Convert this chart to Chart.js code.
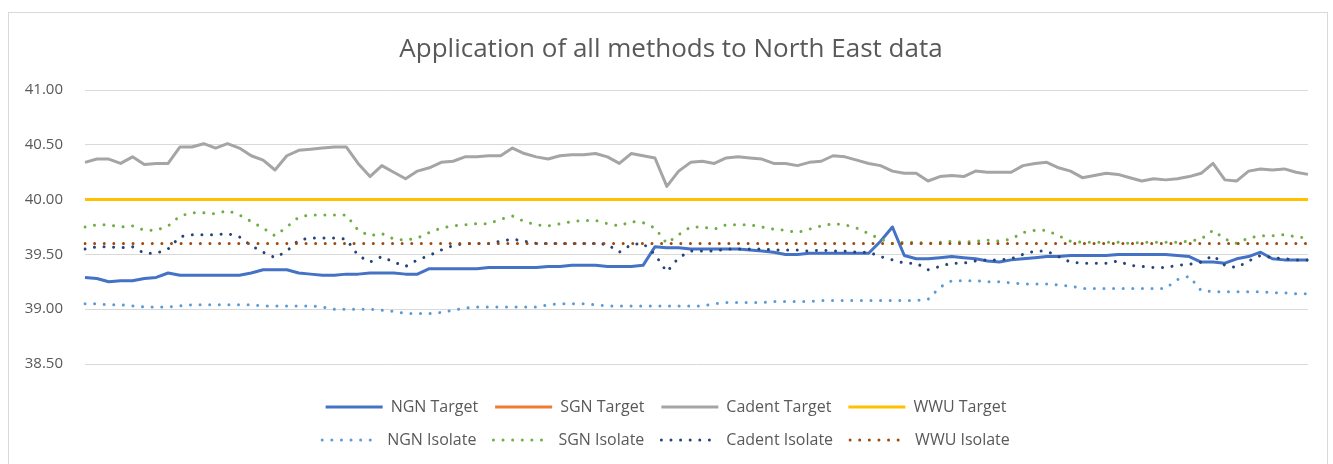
<!DOCTYPE html>
<html><head><meta charset="utf-8">
<script src="https://cdn.jsdelivr.net/npm/chart.js@4.4.1/dist/chart.umd.min.js"></script>
<style>
html,body{margin:0;padding:0;background:#fff;overflow:hidden;width:1333px;height:464px;}
#frame{position:absolute;left:8px;top:12px;width:1318px;height:460px;border:1px solid #d9d9d9;background:#fff;}
#c{display:block;}
#warm{position:absolute;left:-9999px;top:0;font-family:'Open Sans';font-size:16px;}
</style></head><body>
<div id="warm">Application NGN Target 41.00</div>
<div id="frame"><canvas id="c" width="1318" height="460"></canvas></div>
<script>
const chartTitle = 'Application of all methods to North East data';

const categories = [1,2,3,4,5,6,7,8,9,10,11,12,13,14,15,16,17,18,19,20,
21,22,23,24,25,26,27,28,29,30,31,32,33,34,35,36,37,38,39,40,
41,42,43,44,45,46,47,48,49,50,51,52,53,54,55,56,57,58,59,60,
61,62,63,64,65,66,67,68,69,70,71,72,73,74,75,76,77,78,79,80,
81,82,83,84,85,86,87,88,89,90,91,92,93,94,95,96,97,98,99,100,
101,102,103,104];

const yTicks = [38.5, 39.0, 39.5, 40.0, 40.5, 41.0];

const seriesNames = ['NGN Target','SGN Target','Cadent Target','WWU Target',
                     'NGN Isolate','SGN Isolate','Cadent Isolate','WWU Isolate'];

const ngnTarget = [39.29,39.28,39.25,39.26,39.26,39.28,39.29,39.33,39.31,39.31,
 39.31,39.31,39.31,39.31,39.33,39.36,39.36,39.36,39.33,39.32,
 39.31,39.31,39.32,39.32,39.33,39.33,39.33,39.32,39.32,39.37,
 39.37,39.37,39.37,39.37,39.38,39.38,39.38,39.38,39.38,39.39,
 39.39,39.40,39.40,39.40,39.39,39.39,39.39,39.40,39.57,39.56,
 39.56,39.55,39.55,39.55,39.55,39.55,39.54,39.53,39.52,39.50,
 39.50,39.51,39.51,39.51,39.51,39.51,39.51,39.62,39.75,39.49,
 39.46,39.46,39.47,39.48,39.47,39.46,39.44,39.43,39.45,39.46,
 39.47,39.48,39.48,39.49,39.49,39.49,39.49,39.50,39.50,39.50,
 39.50,39.50,39.49,39.48,39.43,39.43,39.42,39.46,39.48,39.52,
 39.46,39.45,39.45,39.45];

const sgnTarget = [40.00,40.00,40.00,40.00,40.00,40.00,40.00,40.00,40.00,40.00,
 40.00,40.00,40.00,40.00,40.00,40.00,40.00,40.00,40.00,40.00,
 40.00,40.00,40.00,40.00,40.00,40.00,40.00,40.00,40.00,40.00,
 40.00,40.00,40.00,40.00,40.00,40.00,40.00,40.00,40.00,40.00,
 40.00,40.00,40.00,40.00,40.00,40.00,40.00,40.00,40.00,40.00,
 40.00,40.00,40.00,40.00,40.00,40.00,40.00,40.00,40.00,40.00,
 40.00,40.00,40.00,40.00,40.00,40.00,40.00,40.00,40.00,40.00,
 40.00,40.00,40.00,40.00,40.00,40.00,40.00,40.00,40.00,40.00,
 40.00,40.00,40.00,40.00,40.00,40.00,40.00,40.00,40.00,40.00,
 40.00,40.00,40.00,40.00,40.00,40.00,40.00,40.00,40.00,40.00,
 40.00,40.00,40.00,40.00];

const cadentTarget = [40.34,40.37,40.37,40.33,40.39,40.32,40.33,40.33,40.48,40.48,
 40.51,40.47,40.51,40.47,40.40,40.36,40.27,40.40,40.45,40.46,
 40.47,40.48,40.48,40.33,40.21,40.31,40.25,40.19,40.26,40.29,
 40.34,40.35,40.39,40.39,40.40,40.40,40.47,40.42,40.39,40.37,
 40.40,40.41,40.41,40.42,40.39,40.33,40.42,40.40,40.38,40.12,
 40.26,40.34,40.35,40.33,40.38,40.39,40.38,40.37,40.33,40.33,
 40.31,40.34,40.35,40.40,40.39,40.36,40.33,40.31,40.26,40.24,
 40.24,40.17,40.21,40.22,40.21,40.26,40.25,40.25,40.25,40.31,
 40.33,40.34,40.29,40.26,40.20,40.22,40.24,40.23,40.20,40.17,
 40.19,40.18,40.19,40.21,40.24,40.33,40.18,40.17,40.26,40.28,
 40.27,40.28,40.25,40.23];

const wwuTarget = [40.00,40.00,40.00,40.00,40.00,40.00,40.00,40.00,40.00,40.00,
 40.00,40.00,40.00,40.00,40.00,40.00,40.00,40.00,40.00,40.00,
 40.00,40.00,40.00,40.00,40.00,40.00,40.00,40.00,40.00,40.00,
 40.00,40.00,40.00,40.00,40.00,40.00,40.00,40.00,40.00,40.00,
 40.00,40.00,40.00,40.00,40.00,40.00,40.00,40.00,40.00,40.00,
 40.00,40.00,40.00,40.00,40.00,40.00,40.00,40.00,40.00,40.00,
 40.00,40.00,40.00,40.00,40.00,40.00,40.00,40.00,40.00,40.00,
 40.00,40.00,40.00,40.00,40.00,40.00,40.00,40.00,40.00,40.00,
 40.00,40.00,40.00,40.00,40.00,40.00,40.00,40.00,40.00,40.00,
 40.00,40.00,40.00,40.00,40.00,40.00,40.00,40.00,40.00,40.00,
 40.00,40.00,40.00,40.00];

const ngnIsolate = [39.05,39.05,39.04,39.04,39.03,39.02,39.02,39.02,39.03,39.04,
 39.04,39.04,39.04,39.04,39.04,39.03,39.03,39.03,39.03,39.03,
 39.02,39.00,39.00,39.00,39.00,38.99,38.98,38.96,38.96,38.96,
 38.97,38.99,39.01,39.02,39.02,39.02,39.02,39.02,39.02,39.04,
 39.05,39.05,39.05,39.04,39.03,39.03,39.03,39.03,39.03,39.03,
 39.03,39.03,39.03,39.05,39.06,39.06,39.06,39.06,39.07,39.07,
 39.07,39.07,39.08,39.08,39.08,39.08,39.08,39.08,39.08,39.08,
 39.08,39.09,39.20,39.26,39.26,39.26,39.25,39.25,39.24,39.23,
 39.23,39.23,39.22,39.21,39.19,39.19,39.19,39.19,39.19,39.19,
 39.19,39.19,39.27,39.30,39.17,39.16,39.16,39.16,39.16,39.16,
 39.15,39.15,39.14,39.14];

const sgnIsolate = [39.75,39.77,39.77,39.75,39.76,39.72,39.72,39.76,39.85,39.88,
 39.88,39.87,39.90,39.86,39.80,39.74,39.67,39.75,39.84,39.86,
 39.86,39.86,39.86,39.72,39.67,39.69,39.64,39.63,39.65,39.70,
 39.74,39.76,39.77,39.78,39.78,39.82,39.85,39.80,39.77,39.76,
 39.78,39.80,39.81,39.81,39.78,39.76,39.80,39.79,39.74,39.60,
 39.68,39.75,39.75,39.73,39.77,39.77,39.77,39.75,39.73,39.72,
 39.70,39.73,39.76,39.78,39.77,39.74,39.69,39.64,39.60,39.61,
 39.61,39.60,39.61,39.62,39.61,39.62,39.63,39.62,39.64,39.70,
 39.72,39.72,39.67,39.62,39.61,39.61,39.61,39.61,39.60,39.61,
 39.61,39.61,39.61,39.62,39.64,39.72,39.64,39.60,39.65,39.67,
 39.67,39.68,39.66,39.65];

const cadentIsolate = [39.55,39.57,39.57,39.56,39.57,39.51,39.51,39.55,39.66,39.68,
 39.68,39.68,39.69,39.66,39.58,39.52,39.47,39.53,39.63,39.65,
 39.65,39.65,39.64,39.49,39.43,39.48,39.43,39.39,39.45,39.49,
 39.54,39.58,39.60,39.60,39.60,39.62,39.64,39.62,39.60,39.60,
 39.60,39.60,39.60,39.60,39.59,39.52,39.59,39.60,39.50,39.34,
 39.47,39.53,39.53,39.53,39.55,39.55,39.55,39.55,39.54,39.54,
 39.54,39.53,39.54,39.53,39.53,39.52,39.52,39.48,39.45,39.42,
 39.42,39.36,39.39,39.42,39.42,39.44,39.45,39.45,39.46,39.50,
 39.53,39.53,39.48,39.43,39.42,39.42,39.42,39.44,39.40,39.39,
 39.38,39.38,39.40,39.41,39.43,39.49,39.40,39.38,39.44,39.49,
 39.47,39.46,39.45,39.45];

const wwuIsolate = [39.60,39.60,39.60,39.60,39.60,39.60,39.60,39.60,39.60,39.60,
 39.60,39.60,39.60,39.60,39.60,39.60,39.60,39.60,39.60,39.60,
 39.60,39.60,39.60,39.60,39.60,39.60,39.60,39.60,39.60,39.60,
 39.60,39.60,39.60,39.60,39.60,39.60,39.60,39.60,39.60,39.60,
 39.60,39.60,39.60,39.60,39.60,39.60,39.60,39.60,39.60,39.60,
 39.60,39.60,39.60,39.60,39.60,39.60,39.60,39.60,39.60,39.60,
 39.60,39.60,39.60,39.60,39.60,39.60,39.60,39.60,39.60,39.60,
 39.60,39.60,39.60,39.60,39.60,39.60,39.60,39.60,39.60,39.60,
 39.60,39.60,39.60,39.60,39.60,39.60,39.60,39.60,39.60,39.60,
 39.60,39.60,39.60,39.60,39.60,39.60,39.60,39.60,39.60,39.60,
 39.60,39.60,39.60,39.60];

const seriesValues = [ngnTarget, sgnTarget, cadentTarget, wwuTarget,
                      ngnIsolate, sgnIsolate, cadentIsolate, wwuIsolate];

// styles
const seriesColors = ['#4472C4','#ED7D31','#A5A5A5','#FFC000','#5B9BD5','#70AD47','#264478','#9E480E'];
const DOT = [0.01, 9.6];
const FONT = "'Open Sans', sans-serif";
const TXT = '#595959';
const LEGEND_WRAP = 800;     // width within which legend rows wrap
const LEGEND_CENTER = 657;   // canvas x of legend centre
const TITLE_CENTER = 662;    // canvas x of title centre

function drawChart() {
  const datasets = seriesNames.map((name, i) => {
    const dotted = i >= 4;
    return {
      label: name,
      data: seriesValues[i],
      borderColor: seriesColors[i],
      backgroundColor: seriesColors[i],
      borderWidth: 3,
      borderDash: dotted ? DOT : [],
      borderCapStyle: dotted ? 'round' : 'butt',
      borderJoinStyle: 'round',
      pointRadius: 0,
      tension: 0,
      fill: false,
      order: seriesNames.length - i
    };
  });

  const boxAdjust = {
    id: 'boxAdjust',
    beforeLayout(chart) {
      const lg = chart.legend;
      if (lg && !lg._wrapPatched) {
        const orig = lg.update;
        lg.update = function (maxW, maxH, margins) {
          return orig.call(this, Math.min(maxW, LEGEND_WRAP), maxH, margins);
        };
        lg._wrapPatched = true;
      }
    },
    afterLayout(chart) {
      const lg = chart.legend;
      if (lg) {
        lg.left = LEGEND_CENTER - LEGEND_WRAP / 2;
        lg.right = LEGEND_CENTER + LEGEND_WRAP / 2;
        lg.width = LEGEND_WRAP;
      }
      const tb = chart.titleBlock;
      if (tb) {
        tb.left = TITLE_CENTER - 600;
        tb.right = TITLE_CENTER + 600;
        tb.width = 1200;
      }
    }
  };

  new Chart(document.getElementById('c'), {
    type: 'line',
    data: { labels: categories, datasets },
    plugins: [boxAdjust],
    options: {
      responsive: false,
      animation: false,
      devicePixelRatio: 1,
      layout: { padding: { left: 0, right: 19, top: 0, bottom: 15 } },
      plugins: {
        title: {
          display: true, text: chartTitle, color: TXT,
          font: { family: FONT, size: 26, weight: 'normal' },
          padding: { top: 20.5, bottom: 25.3 }
        },
        legend: {
          position: 'bottom',
          labels: {
            usePointStyle: true,
            pointStyleWidth: 57,
            padding: 17,
            color: TXT,
            font: { family: FONT, size: 16 },
            generateLabels(chart) {
              return chart.data.datasets.map((ds, i) => ({
                text: ds.label,
                datasetIndex: i,
                fillStyle: ds.borderColor,
                strokeStyle: ds.borderColor,
                fontColor: TXT,
                lineWidth: 3,
                lineDash: ds.borderDash,
                lineCap: ds.borderCapStyle,
                pointStyle: 'line',
                hidden: false
              }));
            }
          }
        },
        tooltip: { enabled: false }
      },
      scales: {
        x: {
          display: true,
          ticks: { display: false },
          grid: { display: false, drawTicks: false },
          border: { display: false },
          afterFit(s) { s.height = 18; }
        },
        y: {
          min: yTicks[0], max: yTicks[yTicks.length - 1],
          afterBuildTicks(s) { s.ticks = yTicks.map(v => ({ value: v })); },
          ticks: {
            callback: v => Number(v).toFixed(2),
            color: TXT, font: { family: FONT, size: 15 }, padding: 22
          },
          grid: { color: '#d9d9d9', drawTicks: false, lineWidth: 1 },
          border: { display: false },
          afterFit(s) { s.width = 76; }
        }
      }
    }
  });
}

let drawn = false;
function go() { if (drawn) return; drawn = true; drawChart(); }
Promise.all([
  document.fonts.load("16px 'Open Sans'"),
  document.fonts.load("26px 'Open Sans'")
]).then(() => document.fonts.ready).then(go, go);
setTimeout(go, 400);
</script>
</body></html>
